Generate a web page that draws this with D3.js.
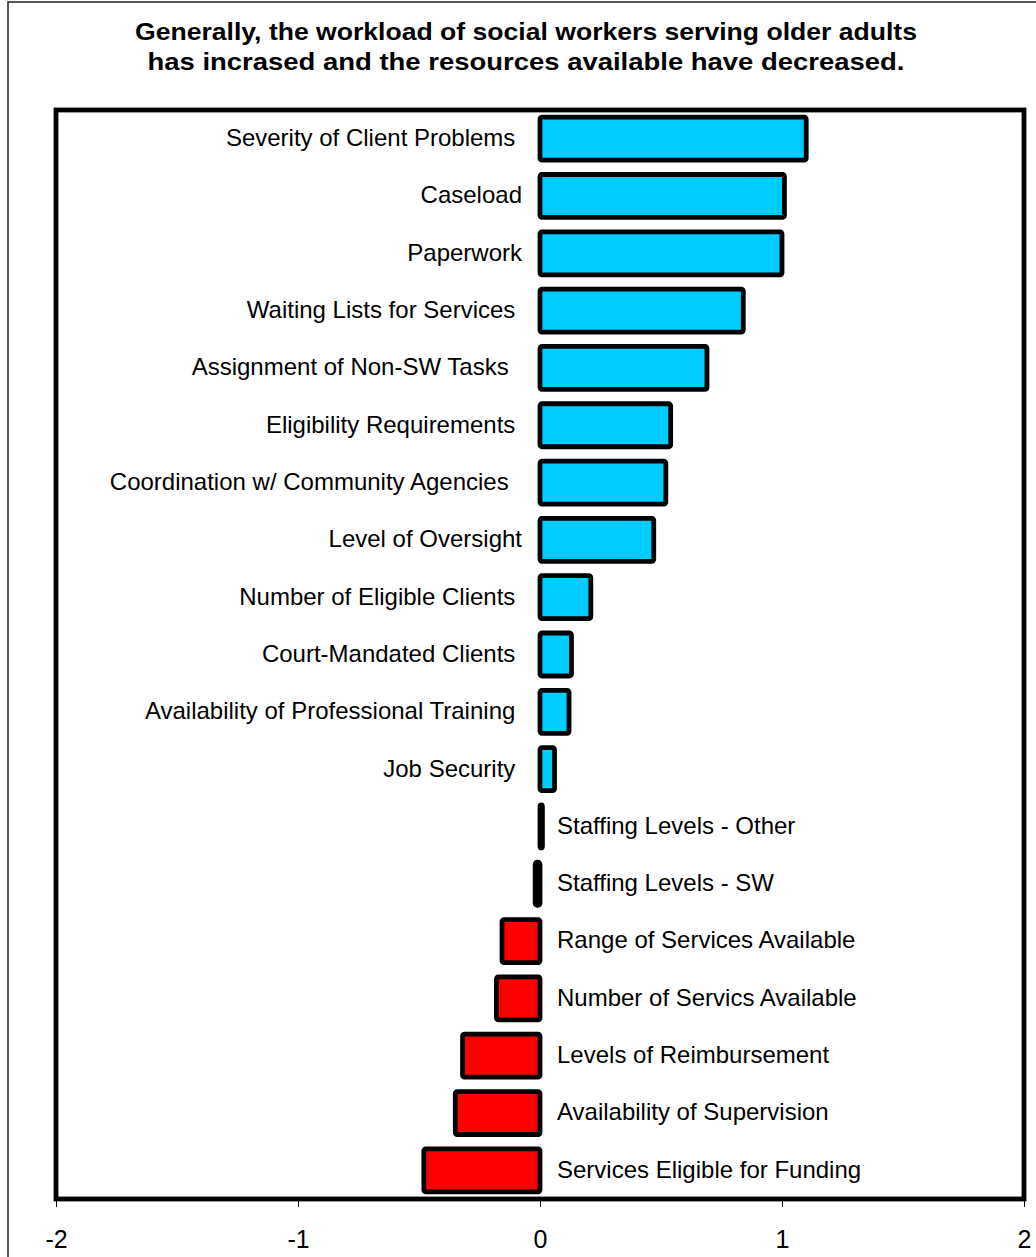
<!DOCTYPE html>
<html>
<head>
<meta charset="utf-8">
<script src="https://cdn.jsdelivr.net/npm/d3@7/dist/d3.min.js"></script>
<style>
  html, body { margin: 0; padding: 0; background: #fff; }
  svg { display: block; font-family: Arial, "Liberation Sans", sans-serif; }
  text.cat { white-space: pre; }
</style>
</head>
<body>
<svg id="chart" width="1036" height="1257"></svg>
<script>
// Change in workload / resources, ordered top to bottom
const categories = [
  "Severity of Client Problems ",
  "Caseload",
  "Paperwork",
  "Waiting Lists for Services ",
  "Assignment of Non-SW Tasks  ",
  "Eligibility Requirements ",
  "Coordination w/ Community Agencies  ",
  "Level of Oversight",
  "Number of Eligible Clients ",
  "Court-Mandated Clients ",
  "Availability of Professional Training ",
  "Job Security ",
  "Staffing Levels - Other",
  "Staffing Levels - SW",
  "Range of Services Available",
  "Number of Servics Available",
  "Levels of Reimbursement",
  "Availability of Supervision",
  "Services Eligible for Funding"
];
const values = [
  1.10, 1.01, 1.00, 0.84, 0.69, 0.54, 0.52, 0.47, 0.21, 0.13, 0.12, 0.06,
  0.01, -0.02, -0.157, -0.18, -0.32, -0.35, -0.48
];
const tickValues = [-2, -1, 0, 1, 2];
const titleLines = [
  "Generally, the workload of social workers serving older adults",
  "has incrased and the resources available have decreased."
];
const titleWidths = [782, 757];

const data = categories.map((c, i) => ({ cat: c, v: values[i] }));

const svg = d3.select("#chart");

// outer chart border
svg.append("rect")
  .attr("x", 8).attr("y", 2)
  .attr("width", 1200).attr("height", 1400)
  .attr("fill", "none")
  .attr("stroke", "#222")
  .attr("stroke-width", 1.5);

// title
svg.append("g").selectAll("text")
  .data(titleLines)
  .join("text")
  .attr("x", 526)
  .attr("y", (d, i) => 40 + i * 30)
  .attr("text-anchor", "middle")
  .attr("font-size", 24)
  .attr("font-weight", "bold")
  .attr("fill", "#000")
  .attr("textLength", (d, i) => titleWidths[i])
  .attr("lengthAdjust", "spacingAndGlyphs")
  .text(d => d);

const plot = { left: 56, right: 1024, top: 110, bottom: 1199 };

const x = d3.scaleLinear().domain([-2, 2]).range([plot.left, plot.right]);
const y = d3.scaleBand()
  .domain(categories)
  .range([plot.top, plot.bottom])
  .paddingInner(0.25)
  .paddingOuter(0.125);

// bottom axis ticks and labels
const axis = d3.axisBottom(x)
  .tickValues(tickValues)
  .tickFormat(d3.format("d"))
  .tickSize(8)
  .tickSizeOuter(0)
  .tickPadding(23);

const gAxis = svg.append("g")
  .attr("transform", `translate(0,${plot.bottom})`)
  .call(axis);
gAxis.select(".domain").remove();
gAxis.selectAll(".tick line").attr("stroke", "#000").attr("stroke-width", 1);
gAxis.selectAll(".tick text")
  .attr("font-size", 25)
  .attr("font-family", "Arial, 'Liberation Sans', sans-serif")
  .attr("fill", "#000")
  .text(d => d < 0 ? "-" + Math.abs(d) : d);

// bars
svg.append("g").selectAll("rect")
  .data(data)
  .join("rect")
  .attr("x", d => x(Math.min(0, d.v)))
  .attr("y", d => y(d.cat))
  .attr("width", d => Math.abs(x(d.v) - x(0)))
  .attr("height", y.bandwidth())
  .attr("rx", 2)
  .attr("fill", d => d.v >= 0 ? "#00CCFF" : "#FF0000")
  .attr("stroke", "#000")
  .attr("stroke-width", 4.8)
  .attr("stroke-linejoin", "round");

// category labels: left of zero for clear increases, right of zero otherwise
const leftSide = d => d.v > 0.03;
svg.append("g").selectAll("text")
  .data(data)
  .join("text")
  .attr("class", "cat")
  .attr("x", d => leftSide(d) ? x(0) - 18 : x(0) + 17)
  .attr("y", d => y(d.cat) + y.bandwidth() / 2 - 1)
  .attr("dy", "0.35em")
  .attr("text-anchor", d => leftSide(d) ? "end" : "start")
  .attr("font-size", 24)
  .attr("fill", "#000")
  .text(d => d.cat);

// plot frame
svg.append("rect")
  .attr("x", plot.left).attr("y", plot.top)
  .attr("width", plot.right - plot.left)
  .attr("height", plot.bottom - plot.top)
  .attr("fill", "none")
  .attr("stroke", "#000")
  .attr("stroke-width", 4.8);
</script>
</body>
</html>
